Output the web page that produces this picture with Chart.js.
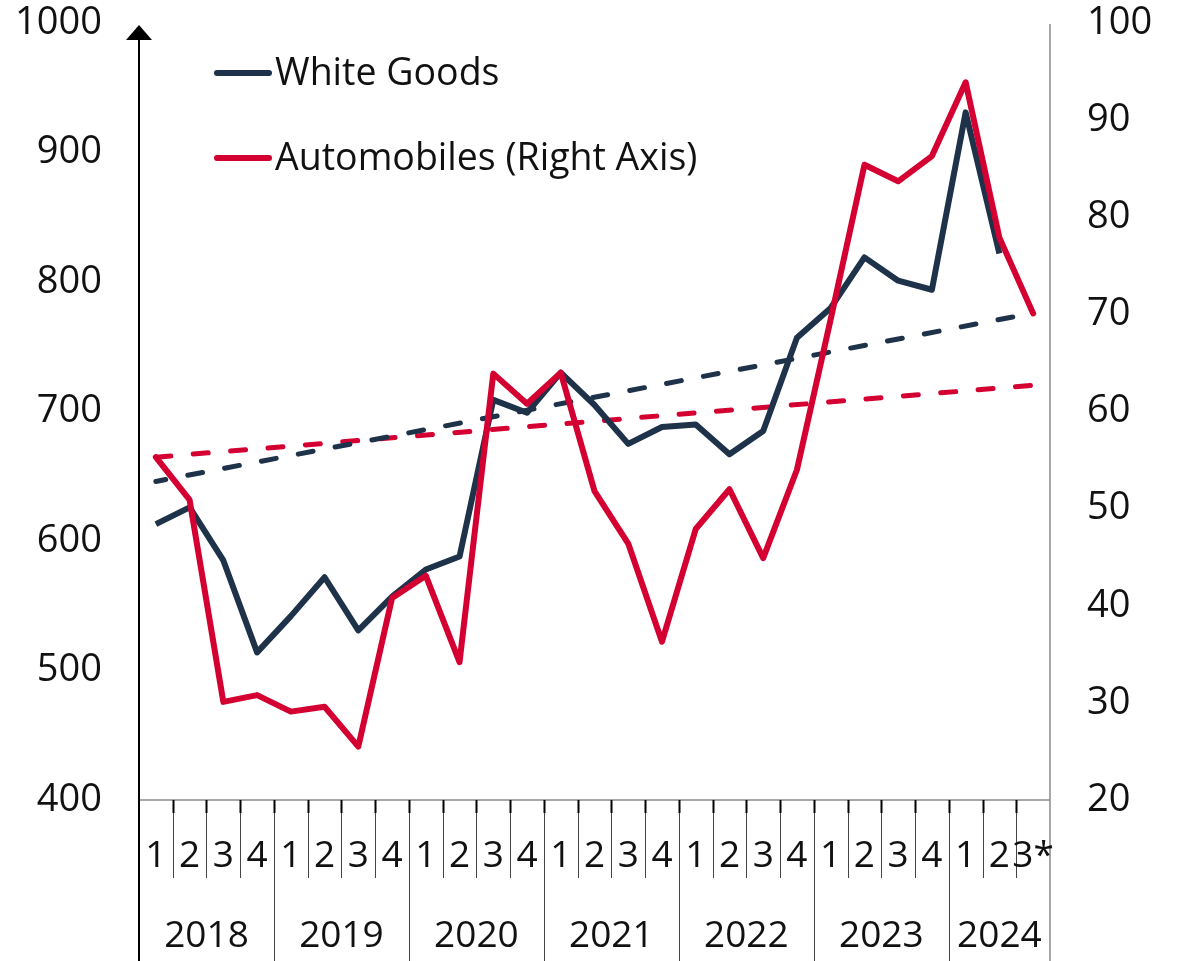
<!DOCTYPE html>
<html>
<head>
<meta charset="utf-8">
<title>White Goods and Automobiles</title>
<script src="https://cdn.jsdelivr.net/npm/chart.js@4.4.1/dist/chart.umd.min.js"></script>
<style>
  html, body { margin: 0; padding: 0; background: #fff; }
</style>
</head>
<body>
<canvas id="chart" width="1179" height="961"></canvas>
<script>
/************ DATA ************/
const yearLabels = ["2018", "2019", "2020", "2021", "2022", "2023", "2024"];
const quarterLabels = [
  "1", "2", "3", "4",  "1", "2", "3", "4",  "1", "2", "3", "4",
  "1", "2", "3", "4",  "1", "2", "3", "4",  "1", "2", "3", "4",
  "1", "2", "3*"
];

// left axis
const whiteGoods = [
  613, 626, 585, 514, 542, 572, 531, 557, 578, 588, 709, 699, 730,
  705, 675, 688, 690, 667, 685, 757, 780, 819, 801, 794, 931, 822, null
];
// right axis
const automobiles = [
  55.3, 50.9, 30.1, 30.8, 29.1, 29.6, 25.5, 40.8, 43.1, 34.2, 63.9, 60.8, 64.0,
  51.8, 46.4, 36.3, 47.9, 52.0, 44.9, 54.0, 69.5, 85.4, 83.7, 86.3, 93.9, 77.9, 70.1
];

// trend lines, first and last quarter
const whiteGoodsTrend = [646, 776];
const automobilesTrend = [55.3, 62.7];

const leftTicks = { min: 400, max: 1000, step: 100 };
const rightTicks = { min: 20, max: 100, step: 10 };

const seriesNames = ["White Goods", "Automobiles (Right Axis)"];

/************ STYLE ************/
const NAVY = "#1e3249";
const RED = "#d50032";
const FONT = "'Open Sans', sans-serif";

/************ LABELS ************/
// one label per quarter, years grouped by how many quarters they hold
const yearStarts = [];
const periods = [];
quarterLabels.forEach((q, i) => {
  if (q === "1") yearStarts.push(i);
  periods.push(yearLabels[yearStarts.length - 1] + " Q" + q);
});

const first = periods[0];
const last = periods[periods.length - 1];

/************ AXIS + LEGEND DRAWING ************/
const axisDecor = {
  id: "axisDecor",
  afterDraw(chart) {
    const ctx = chart.ctx;
    const xs = chart.scales.x;
    const area = chart.chartArea;
    const bottom = chart.height;
    const step = xs.getPixelForValue(1) - xs.getPixelForValue(0);
    const edge = i => xs.getPixelForValue(i) - step / 2;

    ctx.save();

    // base line and right border
    ctx.strokeStyle = "#8a8a8a";
    ctx.lineWidth = 1.5;
    ctx.beginPath();
    ctx.moveTo(area.left, area.bottom);
    ctx.lineTo(area.right, area.bottom);
    ctx.moveTo(area.right, area.top + 1);
    ctx.lineTo(area.right, bottom);
    ctx.stroke();

    // quarter / year separators
    for (let k = 1; k < quarterLabels.length; k++) {
      const x = Math.round(edge(k)) + 0.5;
      const end = yearStarts.includes(k) ? bottom : area.bottom + 78;
      ctx.strokeStyle = "#444";
      ctx.lineWidth = 1;
      ctx.beginPath();
      ctx.moveTo(x, area.bottom);
      ctx.lineTo(x, end);
      ctx.stroke();
      ctx.strokeStyle = "#000";
      ctx.lineWidth = 2;
      ctx.beginPath();
      ctx.moveTo(x, area.bottom);
      ctx.lineTo(x, area.bottom + 13);
      ctx.stroke();
    }

    // left axis with arrow head
    ctx.strokeStyle = "#000";
    ctx.fillStyle = "#000";
    ctx.lineWidth = 2;
    ctx.beginPath();
    ctx.moveTo(area.left, bottom);
    ctx.lineTo(area.left, area.top + 14);
    ctx.stroke();
    ctx.beginPath();
    ctx.moveTo(area.left, area.top + 2);
    ctx.lineTo(area.left - 13, area.top + 17);
    ctx.lineTo(area.left + 13, area.top + 17);
    ctx.closePath();
    ctx.fill();

    // quarter and year labels
    ctx.fillStyle = "#111";
    ctx.textAlign = "center";
    ctx.textBaseline = "alphabetic";
    ctx.font = "37px " + FONT;
    quarterLabels.forEach((q, i) => {
      ctx.fillText(q, xs.getPixelForValue(i), area.bottom + 67);
    });
    yearLabels.forEach((y, j) => {
      const a = yearStarts[j];
      const b = j + 1 < yearStarts.length ? yearStarts[j + 1] : quarterLabels.length;
      ctx.fillText(y, (edge(a) + edge(b)) / 2, area.bottom + 147);
    });

    // legend
    const rows = [
      { name: seriesNames[0], color: NAVY, y: 73, base: 85 },
      { name: seriesNames[1], color: RED, y: 158, base: 170 }
    ];
    ctx.textAlign = "left";
    ctx.font = "37.5px " + FONT;
    ctx.lineCap = "round";
    rows.forEach(r => {
      ctx.strokeStyle = r.color;
      ctx.lineWidth = 6;
      ctx.beginPath();
      ctx.moveTo(217, r.y);
      ctx.lineTo(269, r.y);
      ctx.stroke();
      ctx.fillStyle = "#111";
      ctx.fillText(r.name, 275, r.base);
    });

    ctx.restore();
  }
};

/************ CHART ************/
const tickFont = { family: FONT, size: 38 };

// fixed axis widths, no extra room above/below the labels
function fitAxis(width) {
  return s => {
    s.width = width;
    s.paddingTop = 0;
    s.paddingBottom = 0;
  };
}

new Chart(document.getElementById("chart"), {
  type: "line",
  data: {
    labels: periods,
    datasets: [
      {
        label: seriesNames[1],
        data: automobiles,
        yAxisID: "y1",
        borderColor: RED,
        borderWidth: 6,
        borderJoinStyle: "round",
        borderCapStyle: "round",
        order: 0
      },
      {
        label: seriesNames[0],
        data: whiteGoods,
        yAxisID: "y",
        borderColor: NAVY,
        borderWidth: 6,
        borderJoinStyle: "round",
        borderCapStyle: "butt",
        order: 1
      },
      {
        label: "White Goods trend",
        data: [{ x: first, y: whiteGoodsTrend[0] }, { x: last, y: whiteGoodsTrend[1] }],
        yAxisID: "y",
        borderColor: NAVY,
        borderWidth: 5,
        borderCapStyle: "round",
        borderDash: [15, 22.5],
        borderDashOffset: 5,
        order: 2
      },
      {
        label: "Automobiles trend",
        data: [{ x: first, y: automobilesTrend[0] }, { x: last, y: automobilesTrend[1] }],
        yAxisID: "y1",
        borderColor: RED,
        borderWidth: 5,
        borderCapStyle: "round",
        borderDash: [15, 22.5],
        order: 3
      }
    ]
  },
  options: {
    responsive: false,
    animation: false,
    layout: { padding: { top: 23, bottom: 161, left: 0, right: 0 } },
    elements: { point: { radius: 0 }, line: { tension: 0 } },
    plugins: { legend: { display: false }, tooltip: { enabled: false } },
    scales: {
      x: {
        display: false,
        offset: true
      },
      y: {
        position: "left",
        min: leftTicks.min,
        max: leftTicks.max,
        grid: { display: false, drawTicks: false },
        border: { display: false },
        ticks: {
          stepSize: leftTicks.step, font: tickFont, color: "#111", padding: 37,
          callback: v => String(v)
        },
        afterFit: fitAxis(139)
      },
      y1: {
        position: "right",
        min: rightTicks.min,
        max: rightTicks.max,
        grid: { display: false, drawTicks: false },
        border: { display: false },
        ticks: {
          stepSize: rightTicks.step, font: tickFont, color: "#111", padding: 37,
          callback: v => String(v)
        },
        afterFit: fitAxis(129)
      }
    }
  },
  plugins: [axisDecor]
});
</script>
</body>
</html>
